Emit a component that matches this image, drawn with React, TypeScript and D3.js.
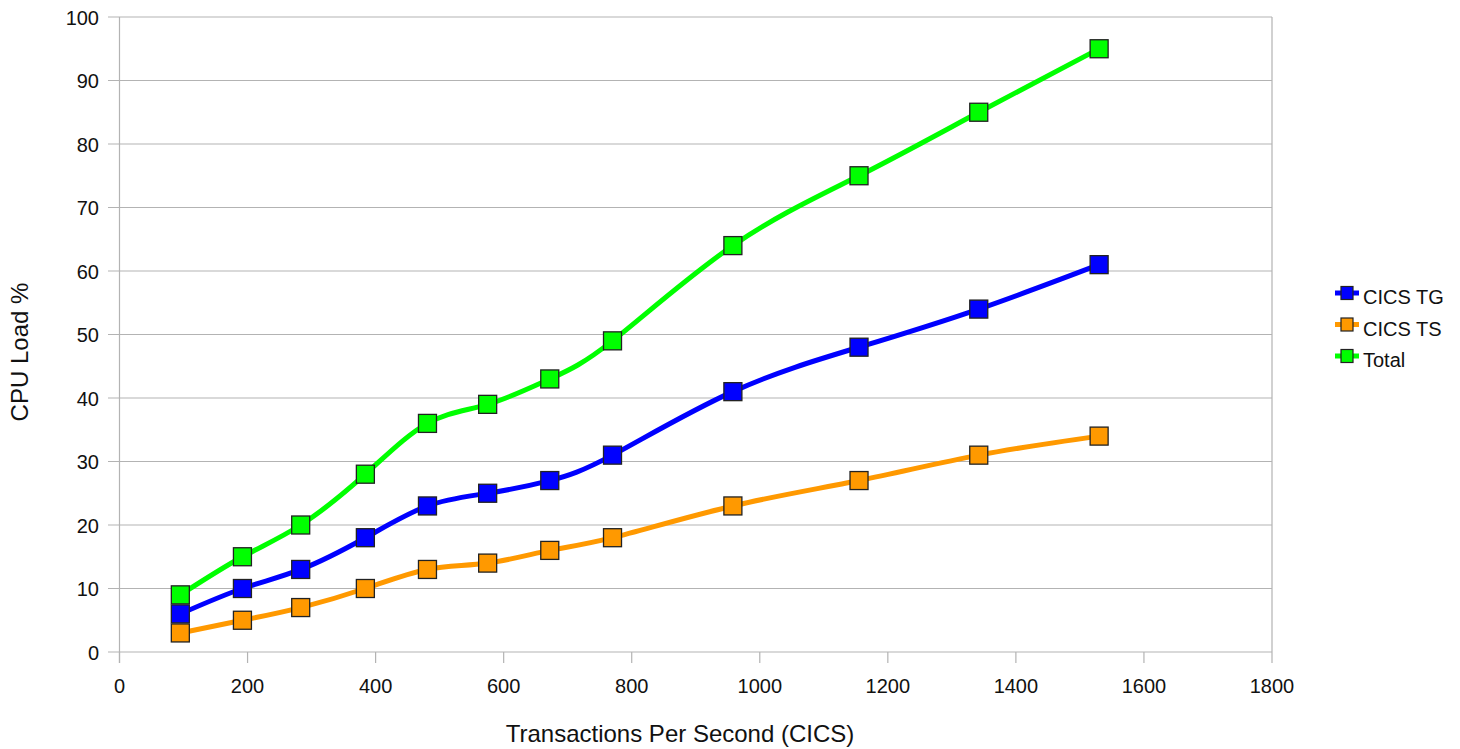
import React from "react";
import * as d3 from "d3";

const tps = [95, 192, 283, 384, 481, 575, 672, 770, 958, 1155, 1342, 1530];
const cicsTG = [6, 10, 13, 18, 23, 25, 27, 31, 41, 48, 54, 61];
const cicsTS = [3, 5, 7, 10, 13, 14, 16, 18, 23, 27, 31, 34];
const total = [9, 15, 20, 28, 36, 39, 43, 49, 64, 75, 85, 95];
const xTicks = [0, 200, 400, 600, 800, 1000, 1200, 1400, 1600, 1800];
const yTicks = [0, 10, 20, 30, 40, 50, 60, 70, 80, 90, 100];

const series = [
  { name: "CICS TG", values: cicsTG, color: "#0000ff" },
  { name: "CICS TS", values: cicsTS, color: "#ff9900" },
  { name: "Total", values: total, color: "#00ff00" },
];

export default function App() {
  const W = 1460, H = 749;
  const left = 119.5, right = 1272, top = 17, bottom = 652;
  const x = d3.scaleLinear().domain([0, 1800]).range([left, right]);
  const y = d3.scaleLinear().domain([0, 100]).range([bottom, top]);
  const font = "'Liberation Sans', Arial, sans-serif";
  const grid = "#b3b3b3";
  const line = d3
    .line<[number, number]>()
    .x((d) => x(d[0]))
    .y((d) => y(d[1]))
    .curve(d3.curveNatural);
  const ms = 18;
  return (
    <svg width={W} height={H} style={{ position: "absolute", left: 0, top: 0 }} fontFamily={font}>
      <rect width={W} height={H} fill="#fff" />
      {yTicks.map((t) => (
        <g key={"y" + t}>
          <line x1={108} x2={right} y1={y(t)} y2={y(t)} stroke={grid} strokeWidth={1.2} />
          <text x={99} y={y(t) + 7.5} textAnchor="end" fontSize={20} fill="#111">{t}</text>
        </g>
      ))}
      {xTicks.map((t) => (
        <g key={"x" + t}>
          <line x1={x(t)} x2={x(t)} y1={bottom} y2={663} stroke={grid} strokeWidth={1.2} />
          <text x={x(t)} y={693} textAnchor="middle" fontSize={20} fill="#111">{t}</text>
        </g>
      ))}
      <line x1={left} x2={left} y1={top} y2={663} stroke={grid} strokeWidth={1.2} />
      <line x1={right} x2={right} y1={top} y2={bottom} stroke={grid} strokeWidth={1.2} />
      {series.map((s) => (
        <path
          key={s.name}
          d={line(tps.map((v, i) => [v, s.values[i]] as [number, number])) || ""}
          fill="none"
          stroke={s.color}
          strokeWidth={5}
        />
      ))}
      {series.map((s) =>
        tps.map((v, i) => (
          <rect
            key={s.name + i}
            x={x(v) - ms / 2}
            y={y(s.values[i]) - ms / 2}
            width={ms}
            height={ms}
            fill={s.color}
            stroke="#222"
            strokeWidth={1.3}
          />
        ))
      )}
      <text x={680} y={742} textAnchor="middle" fontSize={24} fill="#111">Transactions Per Second (CICS)</text>
      <text transform="translate(28,352) rotate(-90)" textAnchor="middle" fontSize={24} fill="#111">CPU Load %</text>
      {series.map((s, i) => {
        const cy = 293 + i * 31.5;
        return (
          <g key={"lg" + s.name}>
            <line x1={1335} x2={1359} y1={cy} y2={cy} stroke={s.color} strokeWidth={5} />
            <rect x={1341} y={cy - 6.5} width={12} height={13} fill={s.color} stroke="#222" strokeWidth={1.2} />
            <text x={1363} y={cy + 11} fontSize={20} fill="#111">{s.name}</text>
          </g>
        );
      })}
    </svg>
  );
}
